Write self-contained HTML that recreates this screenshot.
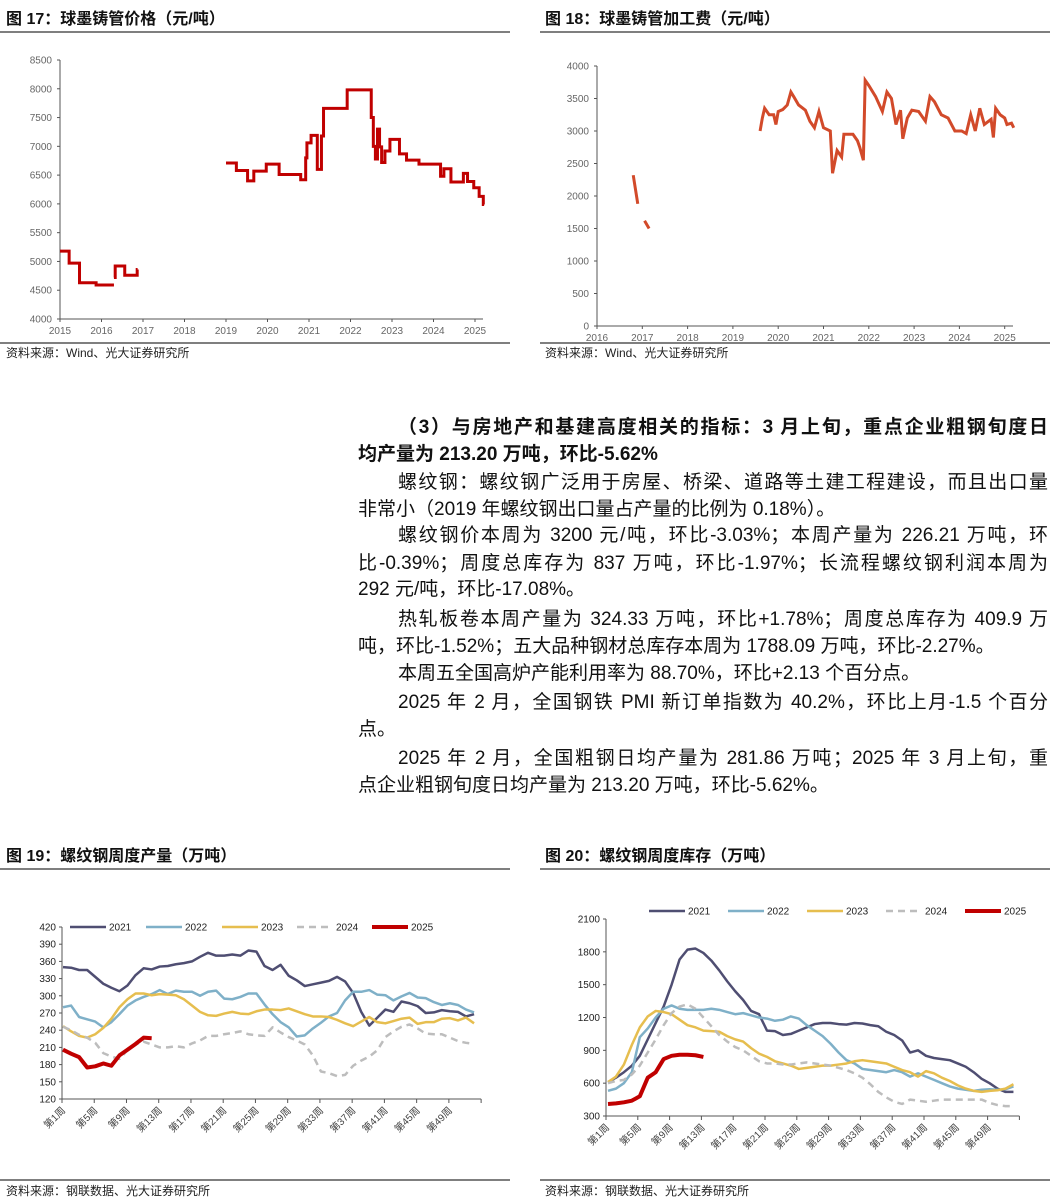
<!DOCTYPE html>
<html><head><meta charset="utf-8">
<style>
body{margin:0;background:#fff;width:1055px;height:1201px;overflow:hidden;position:relative;font-family:"Liberation Sans","Noto Sans CJK SC",sans-serif;}
.t{position:absolute;font-size:16px;font-weight:bold;color:#111;}
.ln{position:absolute;left:358px;width:690px;font-size:19px;color:#111;line-height:24px;white-space:nowrap;}
.j{text-align:justify;text-align-last:justify;white-space:normal;}
.b{font-weight:bold;}
svg{position:absolute;left:0;top:0;}
</style></head><body>
<svg id="s" width="1055" height="1201" font-family="Liberation Sans, Noto Sans CJK SC, sans-serif"></svg>
<div class="t" style="left:6px;top:5px">图 17：球墨铸管价格（元/吨）</div>
<div class="t" style="left:545px;top:5px">图 18：球墨铸管加工费（元/吨）</div>
<div class="t" style="left:6px;top:842px">图 19：螺纹钢周度产量（万吨）</div>
<div class="t" style="left:545px;top:842px">图 20：螺纹钢周度库存（万吨）</div>
<div>
<div class="ln b j" style="top:416px;left:398px;width:650px">（3）与房地产和基建高度相关的指标：3 月上旬，重点企业粗钢旬度日</div>
<div class="ln b" style="top:443px">均产量为 213.20 万吨，环比-5.62%</div>
<div class="ln j" style="top:471px;left:398px;width:650px">螺纹钢：螺纹钢广泛用于房屋、桥梁、道路等土建工程建设，而且出口量</div>
<div class="ln" style="top:498px">非常小（2019 年螺纹钢出口量占产量的比例为 0.18%）。</div>
<div class="ln j" style="top:524px;left:398px;width:650px">螺纹钢价本周为 3200 元/吨，环比-3.03%；本周产量为 226.21 万吨，环</div>
<div class="ln j" style="top:552px">比-0.39%；周度总库存为 837 万吨，环比-1.97%；长流程螺纹钢利润本周为</div>
<div class="ln" style="top:578px">292 元/吨，环比-17.08%。</div>
<div class="ln j" style="top:608px;left:398px;width:650px">热轧板卷本周产量为 324.33 万吨，环比+1.78%；周度总库存为 409.9 万</div>
<div class="ln" style="top:635px">吨，环比-1.52%；五大品种钢材总库存本周为 1788.09 万吨，环比-2.27%。</div>
<div class="ln" style="top:662px;left:398px">本周五全国高炉产能利用率为 88.70%，环比+2.13 个百分点。</div>
<div class="ln j" style="top:691px;left:398px;width:650px">2025 年 2 月，全国钢铁 PMI 新订单指数为 40.2%，环比上月-1.5 个百分</div>
<div class="ln" style="top:718px">点。</div>
<div class="ln j" style="top:747px;left:398px;width:650px">2025 年 2 月，全国粗钢日均产量为 281.86 万吨；2025 年 3 月上旬，重</div>
<div class="ln" style="top:774px">点企业粗钢旬度日均产量为 213.20 万吨，环比-5.62%。</div>
</div>
<script>
// ---- data ----
const t17=[2015.0,2015.22,2015.47,2015.87,2016.3,2016.3,2016.33,2016.56,2016.86,2016.87,2019.0,2019.25,2019.52,2019.67,2019.97,2020.28,2020.8,2020.92,2020.95,2021.05,2021.2,2021.3,2021.35,2021.92,2022.5,2022.55,2022.6,2022.65,2022.7,2022.75,2022.83,2022.95,2023.18,2023.35,2023.65,2024.17,2024.25,2024.42,2024.72,2024.82,2024.97,2025.1,2025.2,2025.22];
const v17=[5180,4970,4630,4590,null,4720,4920,4760,4860,null,6710,6580,6400,6570,6690,6510,6420,6800,7060,7190,6600,7180,7660,7980,7500,7000,6780,7300,6990,6720,6920,7120,6870,6760,6690,6480,6610,6380,6530,6390,6280,6130,5990,5990];
const t18=[2016.8,2016.9,2016.92,2017.05,2017.15,2017.16,2019.6,2019.65,2019.7,2019.8,2019.9,2019.95,2020.0,2020.1,2020.2,2020.28,2020.35,2020.45,2020.6,2020.7,2020.8,2020.9,2021.0,2021.15,2021.2,2021.3,2021.4,2021.45,2021.65,2021.75,2021.8,2021.88,2021.92,2022.0,2022.15,2022.3,2022.4,2022.5,2022.6,2022.7,2022.75,2022.85,2022.95,2023.1,2023.25,2023.35,2023.45,2023.6,2023.75,2023.9,2024.05,2024.15,2024.25,2024.35,2024.45,2024.55,2024.7,2024.75,2024.8,2024.9,2025.0,2025.05,2025.15,2025.2];
const v18=[2320,1880,null,1620,1500,null,3000,3200,3350,3250,3250,3100,3300,3330,3400,3600,3520,3400,3320,3150,3050,3300,3050,3000,2350,2700,2600,2950,2950,2850,2750,2550,3780,3700,3530,3300,3600,3500,3100,3320,2880,3200,3320,3300,3150,3530,3450,3250,3200,3000,3000,2960,3250,3000,3350,3100,3180,2900,3350,3250,3200,3100,3120,3050];
const years=["2021","2022","2023","2024","2025"];
const p21=[350,349,345,345,333,321,314,308,318,336,348,346,351,352,355,357,360,368,375,370,370,372,370,379,377,352,345,354,335,327,317,320,323,326,333,325,305,272,248,262,276,272,290,287,282,270,271,275,273,272,264,268];
const p22=[280,283,263,259,255,245,254,268,283,292,298,303,310,303,309,307,307,300,307,309,295,294,298,304,304,285,268,254,245,229,231,243,253,264,270,292,307,307,310,302,301,292,299,305,297,296,289,284,287,284,276,271];
const p23=[247,238,230,227,233,244,260,280,294,304,304,301,303,302,301,294,283,272,266,265,269,272,269,268,273,276,276,275,278,273,268,264,264,263,258,252,247,255,263,254,252,256,260,262,251,254,254,260,261,257,262,252];
const p24=[246,240,232,227,218,200,194,190,205,215,220,215,210,210,212,210,217,222,230,230,233,235,238,233,231,230,245,236,228,222,215,196,168,165,160,162,178,187,194,205,228,238,246,250,243,234,233,233,227,221,218,216];
const p25=[206,199,193,175,177,182,178,196,206,216,227,226];
const s21=[610,650,700,760,850,1000,1150,1300,1500,1730,1820,1830,1790,1720,1630,1530,1440,1360,1260,1230,1080,1075,1040,1050,1080,1110,1140,1150,1150,1140,1135,1150,1145,1130,1120,1070,1040,990,880,900,850,830,820,810,780,750,700,640,600,550,520,520];
const s22=[530,550,600,700,1020,1100,1200,1280,1310,1280,1270,1270,1270,1280,1270,1250,1230,1240,1220,1200,1190,1170,1180,1210,1190,1130,1080,1030,960,880,810,780,730,720,710,700,720,700,660,690,660,630,600,570,550,540,530,540,545,540,545,570];
const s23=[610,660,770,950,1110,1210,1260,1250,1230,1180,1130,1110,1080,1075,1070,1030,1000,980,920,870,840,800,780,760,730,740,750,760,760,770,780,800,810,800,790,780,750,720,700,660,710,690,650,620,580,550,530,520,530,535,550,590];
const s24=[600,620,630,680,760,880,1000,1130,1240,1300,1320,1280,1200,1120,1040,980,930,900,850,800,780,780,770,770,780,790,780,770,760,740,720,690,650,590,520,470,430,410,450,440,430,440,450,450,450,450,450,450,420,400,390,390];
const s25=[410,415,425,440,480,650,700,820,850,860,860,855,840];
const ticks17=[4000,4500,5000,5500,6000,6500,7000,7500,8000,8500];
const ticks18=[0,500,1000,1500,2000,2500,3000,3500,4000];
const ticks19=[120,150,180,210,240,270,300,330,360,390,420];
const ticks20=[300,600,900,1200,1500,1800,2100];
const colors=["#4f4e72","#7fb0c8","#e6be4f","#bdbdbd","#c00000"];

const S=document.getElementById('s');const NS='http://www.w3.org/2000/svg';
function mk(tag,at,name,txt){const e=document.createElementNS(NS,tag);for(const k in at)e.setAttribute(k,at[k]);


if(txt!==undefined)e.textContent=txt;S.appendChild(e);return e;}
// rules
[[0,32,510],[540,32,1050],[0,343,510],[540,343,1050],[0,869,510],[540,869,1050],[0,1180,510],[540,1180,1050]].forEach(r=>mk('line',{x1:r[0],y1:r[1],x2:r[2],y2:r[1],stroke:'#333','stroke-width':1.2},'rule'));
[[6,357],[545,357]].forEach(p=>mk('text',{x:p[0],y:p[1],'font-size':12,fill:'#222'},'source-note','资料来源：Wind、光大证券研究所'));
[[6,1195],[545,1195]].forEach(p=>mk('text',{x:p[0],y:p[1],'font-size':12,fill:'#222'},'source-note','资料来源：钢联数据、光大证券研究所'));

function timeChart(o){
 const X=t=>o.x0+(t-o.t0)*o.step, Y=v=>o.yb-(v-o.vmin)/(o.vmax-o.vmin)*(o.yb-o.yt);
 mk('line',{x1:o.x0,y1:o.yt,x2:o.x0,y2:o.yb,stroke:'#555'},'y-axis');
 mk('line',{x1:o.x0,y1:o.yb,x2:o.xe,y2:o.yb,stroke:'#555'},'x-axis');
 o.ticks.forEach(v=>{mk('line',{x1:o.x0-3,x2:o.x0,y1:Y(v),y2:Y(v),stroke:'#555'},'y-tick');
  mk('text',{x:o.x0-8,y:Y(v)+3.5,'text-anchor':'end','font-size':10,fill:'#666'},'y-tick-label',v);});
 for(let y=o.t0;y<=2025;y++){mk('line',{x1:X(y),x2:X(y),y1:o.yb,y2:o.yb+3,stroke:'#555'},'x-tick');
  mk('text',{x:X(y),y:o.yb+15,'text-anchor':'middle','font-size':10,fill:'#666'},'x-tick-label',y);}
 let d='',start=true,pv=null;
 for(let i=0;i<o.t.length;i++){const v=o.v[i];
  if(v===null){if(o.stepMode&&pv!==null)d+=`L${X(o.t[i])},${Y(pv)}`;start=true;pv=null;continue;}
  if(start){d+=`M${X(o.t[i])},${Y(v)}`;start=false;}
  else{ if(o.stepMode)d+=`L${X(o.t[i])},${Y(pv)}`; d+=`L${X(o.t[i])},${Y(v)}`;}
  pv=v;}
 mk('path',{d:d,fill:'none',stroke:o.color,'stroke-width':3},'price-series');
}
timeChart({x0:60,xe:483,t0:2015,step:41.5,yt:60,yb:319,vmin:4000,vmax:8500,ticks:ticks17,t:t17,v:v17,stepMode:true,color:'#c00000'});
timeChart({x0:597,xe:1013,t0:2016,step:45.3,yt:66,yb:326,vmin:0,vmax:4000,ticks:ticks18,t:t18,v:v18,stepMode:false,color:'#d24a2a'});

function weekChart(o){
 const X=i=>o.x0+o.off+i*o.step, Y=v=>o.yb-(v-o.vmin)/(o.vmax-o.vmin)*(o.yb-o.yt);
 mk('line',{x1:o.x0,y1:o.yt,x2:o.x0,y2:o.yb,stroke:'#555'},'y-axis');
 mk('line',{x1:o.x0,y1:o.yb,x2:o.x0+52*o.step,y2:o.yb,stroke:'#555'},'x-axis');
 o.ticks.forEach(v=>{mk('line',{x1:o.x0-3,x2:o.x0,y1:Y(v),y2:Y(v),stroke:'#555'},'y-tick');
  mk('text',{x:o.x0-6,y:Y(v)+3.5,'text-anchor':'end','font-size':10,fill:'#222'},'y-tick-label',v);});
 for(let k=0;k<=52;k+=4){const x=o.x0+k*o.step;
  mk('line',{x1:x,x2:x,y1:o.yb,y2:o.yb+4,stroke:'#555'},'x-tick');
  if(k<52)mk('text',{x:x+4,y:o.yb+12,'text-anchor':'end','font-size':10,fill:'#444',transform:`rotate(-45 ${x+4} ${o.yb+12})`},'x-tick-label','第'+(k+1)+'周');}
 o.series.forEach((s,j)=>{const pts=s.map((v,i)=>X(i)+','+Y(v)).join(' ');
  const at={points:pts,fill:'none',stroke:colors[j],'stroke-width':j==4?4:2.5,'stroke-linejoin':'round'};
  if(j==3)at['stroke-dasharray']='7,5';
  mk('polyline',at,'series-'+years[j]);
  const lx=o.lx[j];
  const la={x1:lx,x2:lx+36,y1:o.ly,y2:o.ly,stroke:colors[j],'stroke-width':j==4?4:2.5};
  if(j==3)la['stroke-dasharray']='7,5';
  mk('line',la,'legend-swatch-'+years[j]);
  mk('text',{x:lx+39,y:o.ly+3.5,'font-size':10,fill:'#222'},'legend-label-'+years[j],years[j]);});
}
weekChart({x0:62,off:1,step:8.06,yt:927,yb:1099,vmin:120,vmax:420,ticks:ticks19,series:[p21,p22,p23,p24,p25],lx:[70,146,222,297,372],ly:927});
weekChart({x0:606,off:2,step:7.95,yt:919,yb:1116,vmin:300,vmax:2100,ticks:ticks20,series:[s21,s22,s23,s24,s25],lx:[649,728,807,886,965],ly:911});
</script>
</body></html>
